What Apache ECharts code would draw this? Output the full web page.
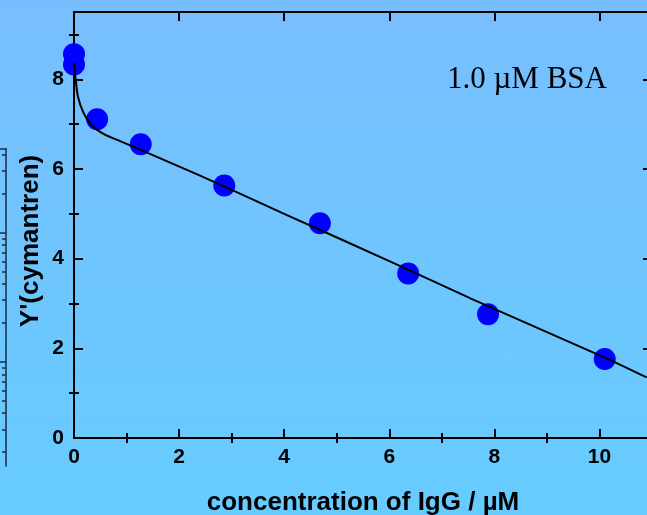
<!DOCTYPE html>
<html>
<head>
<meta charset="utf-8">
<script src="https://cdn.jsdelivr.net/npm/echarts@6/dist/echarts.min.js"></script>
<style>
  html, body { margin: 0; padding: 0; }
  #chart { width: 647px; height: 515px; background: linear-gradient(to bottom, #78befe, #66ccff); }
</style>
</head>
<body>
<div id="chart"></div>
<script>
// measured points
const concIgG = [0, 0, 0.44, 1.27, 2.86, 4.68, 6.36, 7.88, 10.1]
const yCymantren = [8.56, 8.33, 7.11, 6.55, 5.63, 4.79, 3.67, 2.76, 1.76]
// fitted curve
const fitX = [0, 0.04, 0.076, 0.17, 0.33, 0.58, 0.9, 1.28, 2.4, 4, 6.2, 7.63, 10.07, 10.9]
const fitY = [8.36, 7.91, 7.61, 7.28, 6.98, 6.77, 6.61, 6.42, 5.85, 5.0, 3.84, 3.07, 1.81, 1.35]
// tick positions
const xMajorTicks = [0, 2, 4, 6, 8, 10]
const xMinorTicks = [1, 3, 5, 7, 9]
const yMajorTicks = [0, 2, 4, 6, 8]
const yMinorTicks = [1, 3, 5, 7, 9]
// right axis of the neighbouring log panel (cut off at the left edge)
const logMajorTicks = [1, 10]
const logMinorTicks = [0.2, 0.3, 0.4, 0.5, 0.6, 0.7, 0.8, 0.9, 2, 3, 4, 5, 6, 7, 8, 9, 20, 30, 40]

const FONT = 'Liberation Sans, Arial, sans-serif'
const chart = echarts.init(document.getElementById('chart'), null, { renderer: 'canvas' })

const lineStyle = { color: '#000', width: 2 }
const panelLine = { color: '#1b2c40', width: 1.5 }
function frameAxis(pos, ticks, len, opts) { // one side of the frame
  return Object.assign({
    type: 'value',
    gridIndex: 0,
    position: pos,
    min: 0,
    axisLine: { show: true, onZero: false, lineStyle: lineStyle },
    axisTick: { show: true, inside: true, length: len, customValues: ticks, lineStyle: lineStyle },
    axisLabel: { show: false },
    splitLine: { show: false }
  }, opts)
}
function logAxis(ticks, len, showLine) { // neighbour panel's right axis
  return {
    type: 'log', gridIndex: 1, position: 'right', min: 0.156, max: 44.5,
    axisLine: { show: showLine, onZero: false, lineStyle: panelLine },
    axisTick: { show: true, inside: true, length: len, customValues: ticks, lineStyle: panelLine },
    axisLabel: { show: false },
    splitLine: { show: false }
  }
}

const xLabel = {
  show: true,
  customValues: xMajorTicks,
  margin: 9,
  color: '#000',
  fontFamily: FONT,
  fontWeight: 'bold',
  fontSize: 21
}
const yLabel = Object.assign({}, xLabel, { customValues: yMajorTicks, margin: 10 })

const option = {
  animation: false,
  backgroundColor: 'transparent',
  grid: [
    { left: 74, top: 12, right: -5, bottom: 77, outerBoundsMode: 'none' },
    { left: 0, top: 149, width: 6, height: 317, outerBoundsMode: 'none' }
  ],
  xAxis: [
    frameAxis('bottom', xMajorTicks, 9, {
      max: 11,
      axisLabel: xLabel,
      name: 'concentration of IgG / \u00b5M',
      nameLocation: 'middle',
      nameGap: 52,
      nameTextStyle: { color: '#000', fontFamily: FONT, fontWeight: 'bold', fontSize: 26 }
    }),
    frameAxis('bottom', xMinorTicks, 5, { max: 11, axisLine: { show: false } }),
    frameAxis('top', xMajorTicks, 9, { max: 11 }),
    frameAxis('top', xMinorTicks, 5, { max: 11, axisLine: { show: false } }),
    {
      type: 'value', gridIndex: 1, position: 'top', min: 0, max: 1,
      axisLine: { show: true, onZero: false, lineStyle: panelLine },
      axisTick: { show: false }, axisLabel: { show: false }, splitLine: { show: false }
    }
  ],
  yAxis: [
    frameAxis('left', yMajorTicks, 9, { max: 9.5, axisLabel: yLabel }),
    frameAxis('left', yMinorTicks, 5, { max: 9.5, axisLine: { show: false } }),
    frameAxis('right', yMajorTicks, 9, { max: 9.5 }),
    frameAxis('right', yMinorTicks, 5, { max: 9.5, axisLine: { show: false } }),
    logAxis(logMajorTicks, 7, true),
    logAxis(logMinorTicks, 4, false)
  ],
  graphic: [
    {
      type: 'text',
      x: 31, y: 241,
      rotation: Math.PI / 2,
      style: {
        text: "Y'(cymantren)",
        fill: '#000',
        font: 'bold 26px ' + FONT,
        align: 'center',
        verticalAlign: 'middle'
      }
    },
    {
      type: 'text',
      x: 447, y: 80,
      style: {
        text: '1.0 \u00b5M BSA',
        fill: '#000',
        font: '31px Liberation Serif, Times New Roman, serif',
        align: 'left',
        verticalAlign: 'middle'
      }
    }
  ],
  series: [
    {
      type: 'scatter',
      xAxisIndex: 0,
      yAxisIndex: 0,
      symbolSize: 22,
      itemStyle: { color: '#0000ff', opacity: 1 },
      clip: true,
      z: 2,
      data: concIgG.map((x, i) => [x, yCymantren[i]])
    },
    {
      type: 'line',
      xAxisIndex: 0,
      yAxisIndex: 0,
      symbol: 'none',
      smooth: 0.3,
      clip: true,
      lineStyle: { color: '#000', width: 2 },
      z: 3,
      data: fitX.map((x, i) => [x, fitY[i]])
    }
  ]
}
chart.setOption(option)
</script>
</body>
</html>
